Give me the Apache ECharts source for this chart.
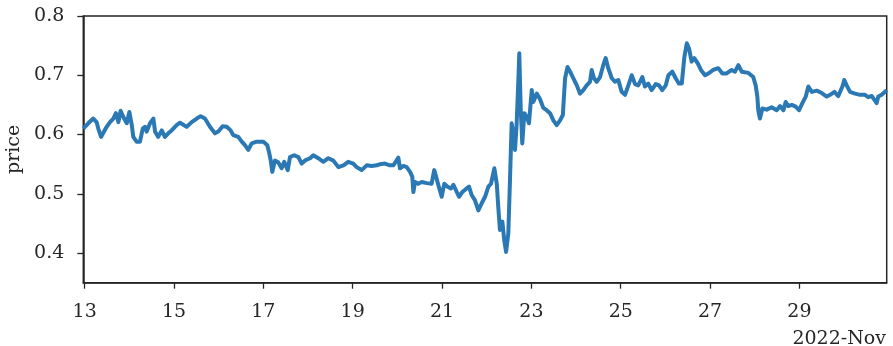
<!DOCTYPE html>
<html>
<head>
<meta charset="utf-8">
<script src="https://cdn.jsdelivr.net/npm/echarts@6/dist/echarts.min.js"></script>
<style>
  html, body { margin: 0; padding: 0; background: #ffffff; }
  #chart { width: 893px; height: 346px; }
</style>
</head>
<body>
<div id="chart"></div>
<script>
// Hours elapsed since 2022-11-13 00:00
const hours = [
  -0.75, 1.9, 4.6, 6.4, 7.3, 8.8, 10.4, 11.8, 13.6, 15.4, 16.8, 18.1, 19.3, 20.7, 22.6,
  24.0, 25.3, 26.1, 27.9, 29.7, 31.2, 32.4, 33.3, 35.1, 36.9, 37.8, 39.5, 41.4, 43.1, 44.9,
  46.7, 49.4, 51.2, 54.8, 57.5, 60.2, 62.3, 64.6, 67.3, 70.0, 71.8, 74.1, 76.3, 78.4, 79.8,
  82.5, 84.4, 86.1, 87.9, 89.7, 92.4, 96.0, 98.1, 99.2, 99.9, 100.8, 102.2, 104.0, 105.8, 107.2,
  109.1, 110.3, 112.6, 114.8, 116.6, 118.7, 121.1, 122.8, 125.5, 128.2, 130.9, 133.6, 136.3, 139.0, 141.6,
  144.3, 146.1, 148.8, 151.5, 154.2, 156.9, 158.7, 161.3, 164.0, 165.8, 167.1, 168.5, 169.4, 171.2, 173.0,
  174.8, 176.0, 176.6, 177.5, 179.2, 181.1, 183.8, 186.4, 187.8, 188.8, 190.0, 191.8, 193.2, 195.0, 196.8,
  198.1, 199.9, 201.1, 202.9, 205.2, 206.5, 207.9, 209.7, 211.5, 213.3, 215.1, 216.9, 218.3, 220.1, 221.4,
  222.2, 223.1, 224.4, 225.4, 226.4, 227.6, 228.5, 229.4, 230.3, 231.2, 232.1, 233.0, 233.5, 234.3, 235.1,
  236.2, 237.5, 238.7, 240.2, 241.0, 242.9, 244.6, 246.4, 248.2, 250.0, 251.8, 253.6, 255.4, 256.9, 258.1,
  259.4, 260.8, 262.5, 264.4, 266.1, 267.9, 269.7, 271.5, 272.4, 273.6, 275.1, 276.9, 278.6, 279.9, 281.3,
  283.2, 284.9, 286.7, 288.5, 290.3, 292.1, 293.9, 295.7, 297.4, 299.6, 301.0, 302.8, 304.6, 306.8, 308.6,
  310.3, 312.2, 313.6, 315.7, 317.5, 319.3, 320.8, 322.2, 323.5, 324.7, 326.1, 327.5, 329.4, 331.1, 333.3,
  335.1, 337.7, 340.4, 342.6, 344.9, 347.6, 349.4, 351.2, 353.0, 356.6, 359.2, 360.5, 361.4, 361.9, 362.8,
  364.1, 366.4, 369.1, 371.8, 373.6, 375.4, 376.6, 378.0, 379.9, 382.0, 383.8, 385.6, 387.4, 388.8, 390.7,
  393.3, 396.0, 398.7, 400.5, 402.8, 404.9, 407.1, 408.1, 409.4, 411.2, 413.9, 416.6, 419.2, 421.0, 422.9,
  425.5, 426.4, 428.2, 430.0, 430.9
];

const price = [
  0.610, 0.619, 0.627, 0.621, 0.610, 0.596, 0.605, 0.613, 0.621, 0.627, 0.636, 0.621, 0.640, 0.630, 0.619,
  0.638, 0.616, 0.596, 0.588, 0.588, 0.610, 0.613, 0.605, 0.619, 0.627, 0.605, 0.596, 0.607, 0.596, 0.602,
  0.607, 0.616, 0.620, 0.613, 0.621, 0.627, 0.631, 0.627, 0.613, 0.602, 0.605, 0.614, 0.613, 0.607, 0.599,
  0.596, 0.588, 0.582, 0.574, 0.585, 0.588, 0.588, 0.582, 0.568, 0.557, 0.537, 0.556, 0.553, 0.543, 0.554,
  0.540, 0.562, 0.565, 0.562, 0.551, 0.557, 0.560, 0.565, 0.560, 0.554, 0.560, 0.556, 0.545, 0.548, 0.554,
  0.551, 0.545, 0.540, 0.548, 0.547, 0.548, 0.550, 0.551, 0.548, 0.548, 0.554, 0.561, 0.543, 0.547, 0.545,
  0.537, 0.529, 0.503, 0.520, 0.517, 0.520, 0.518, 0.517, 0.540, 0.529, 0.515, 0.495, 0.517, 0.512, 0.509,
  0.515, 0.503, 0.495, 0.503, 0.509, 0.512, 0.498, 0.489, 0.472, 0.484, 0.495, 0.512, 0.517, 0.543, 0.517,
  0.478, 0.439, 0.453, 0.422, 0.402, 0.433, 0.523, 0.619, 0.602, 0.574, 0.619, 0.692, 0.737, 0.641, 0.585,
  0.636, 0.630, 0.619, 0.675, 0.655, 0.669, 0.660, 0.645, 0.641, 0.636, 0.624, 0.616, 0.624, 0.633, 0.695,
  0.714, 0.706, 0.695, 0.683, 0.669, 0.675, 0.683, 0.689, 0.709, 0.695, 0.689, 0.697, 0.717, 0.729, 0.712,
  0.695, 0.689, 0.692, 0.672, 0.667, 0.683, 0.700, 0.685, 0.683, 0.697, 0.681, 0.686, 0.675, 0.685, 0.683,
  0.675, 0.683, 0.700, 0.706, 0.695, 0.686, 0.686, 0.731, 0.754, 0.745, 0.723, 0.729, 0.720, 0.709, 0.700,
  0.703, 0.709, 0.712, 0.703, 0.703, 0.709, 0.706, 0.717, 0.706, 0.704, 0.697, 0.683, 0.664, 0.641, 0.627,
  0.644, 0.642, 0.646, 0.641, 0.648, 0.641, 0.655, 0.648, 0.650, 0.647, 0.641, 0.653, 0.664, 0.681, 0.672,
  0.674, 0.670, 0.664, 0.667, 0.672, 0.665, 0.681, 0.692, 0.683, 0.672, 0.669, 0.667, 0.667, 0.663, 0.665,
  0.653, 0.664, 0.667, 0.672, 0.675
];

const dayTicks = [13, 15, 17, 19, 21, 23, 25, 27, 29];
const priceTicks = [0.4, 0.5, 0.6, 0.7, 0.8];
const monthLabel = '2022-Nov';
const firstDay = 13;

// x positions expressed as fractional day of November
const points = hours.map((h, i) => [firstDay + h / 24, price[i]]);

const ink = '#262626';
const font = 'DejaVu Serif';
const fontSize = 19;

const chart = echarts.init(document.getElementById('chart'), null, { renderer: 'canvas' });
chart.setOption({
  animation: false,
  backgroundColor: '#ffffff',
  grid: {
    left: 83.3, right: 6.3, top: 16, bottom: 63.3,
    outerBoundsMode: 'none',
    containLabel: false,
    show: true, borderColor: ink, borderWidth: 1.5, backgroundColor: 'transparent'
  },
  xAxis: {
    type: 'value',
    min: points[0][0],
    max: points[points.length - 1][0],
    splitLine: { show: false },
    axisLine: { show: true, lineStyle: { color: ink, width: 1.5 } },
    axisTick: { show: true, length: 6, lineStyle: { color: ink, width: 1.3 }, customValues: dayTicks },
    axisLabel: {
      customValues: dayTicks, color: ink, fontFamily: font, fontSize: fontSize, margin: 20,
      formatter: v => String(Math.round(v))
    }
  },
  yAxis: {
    type: 'value',
    min: 0.35, max: 0.8,
    name: 'price',
    nameLocation: 'middle',
    nameGap: 60,
    nameTextStyle: { color: ink, fontFamily: font, fontSize: fontSize },
    splitLine: { show: false },
    axisLine: { show: true, lineStyle: { color: ink, width: 1.5 } },
    axisTick: { show: true, length: 6, lineStyle: { color: ink, width: 1.3 }, customValues: priceTicks },
    axisLabel: {
      customValues: priceTicks, color: ink, fontFamily: font, fontSize: fontSize, margin: 19,
      formatter: v => v.toFixed(1)
    }
  },
  graphic: [{
    type: 'text', right: 7, top: 329.5,
    style: { text: monthLabel, fill: ink, font: fontSize + 'px "DejaVu Serif"' }
  }],
  series: [{
    type: 'line',
    data: points,
    showSymbol: false,
    lineStyle: { color: '#2a78b4', width: 4, join: 'round' },
    z: 3
  }]
});
</script>
</body>
</html>
